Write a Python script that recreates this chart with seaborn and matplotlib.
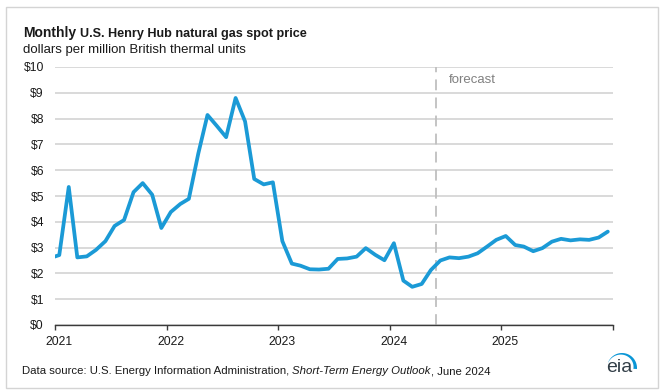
import numpy as np
import pandas as pd
import matplotlib
matplotlib.use('Agg')
import matplotlib.pyplot as plt
import matplotlib.transforms as mtransforms
from matplotlib.patches import Rectangle, Polygon
import seaborn as sns

# Henry Hub monthly spot price, Dec 2020 - Dec 2025 ($/MMBtu), forecast from Jun 2024
months = pd.date_range('2020-12-01', '2025-12-01', freq='MS')
prices = [2.59,
          2.71, 5.35, 2.62, 2.66, 2.91, 3.25, 3.84, 4.07, 5.15, 5.50, 5.05, 3.76,   # 2021
          4.38, 4.69, 4.89, 6.65, 8.14, 7.71, 7.28, 8.80, 7.89, 5.66, 5.45, 5.53,   # 2022
          3.25, 2.38, 2.30, 2.16, 2.15, 2.18, 2.56, 2.58, 2.65, 2.98, 2.72, 2.51,   # 2023
          3.17, 1.72, 1.48, 1.59, 2.13, 2.50, 2.62, 2.59, 2.65, 2.78, 3.04, 3.30,   # 2024
          3.45, 3.10, 3.04, 2.86, 2.98, 3.23, 3.34, 3.28, 3.32, 3.30, 3.39, 3.62]   # 2025
year_labels = ['2021', '2022', '2023', '2024', '2025', '']
year_starts = pd.to_datetime(['2021-01-01', '2022-01-01', '2023-01-01',
                              '2024-01-01', '2025-01-01', '2026-01-01'])
forecast_start = pd.Timestamp('2024-06-01')
y_ticks = list(range(0, 11))

df = pd.DataFrame({'date': months + pd.Timedelta(days=14), 'price': prices})

sns.set_theme(style='white')
plt.rcParams['font.family'] = ['Liberation Sans', 'DejaVu Sans']

W, H = 670, 392
fig = plt.figure(figsize=(W / 100, H / 100), dpi=100)
ax = fig.add_axes([55 / W, 1 - 325 / H, (613 - 55) / W, (325 - 67) / H])

blue = '#1B9AD6'
sns.lineplot(data=df, x='date', y='price', color=blue, lw=2.7, ax=ax)

ax.set_xlim(year_starts[0], year_starts[-1])
ax.set_ylim(0, 10)
ax.set_xticks(year_starts)
ax.set_xticklabels(year_labels)
ax.set_yticks(y_ticks)
ax.set_yticklabels([f'${v}' for v in y_ticks])
ax.set_xlabel('')
ax.set_ylabel('')

ax.yaxis.grid(True, color='#D0D0D0', lw=1.1)
ax.xaxis.grid(False)
ax.set_axisbelow(True)
for side in ['left', 'right', 'top']:
    ax.spines[side].set_visible(False)
ax.spines['bottom'].set_color('#3A3A3A')
ax.spines['bottom'].set_linewidth(1)

ax.tick_params(axis='x', bottom=True, direction='out', length=3.6, width=1,
               color='#3A3A3A', pad=4.5, labelsize=8.7, labelcolor='#1A1A1A')
ax.tick_params(axis='y', left=False, length=0, pad=8, labelsize=8.7,
               labelcolor='#1A1A1A')
shift = mtransforms.ScaledTranslation(0.04, 0, fig.dpi_scale_trans)
for lbl in ax.get_xticklabels():
    lbl.set_transform(lbl.get_transform() + shift)

# forecast divider
ax.axvline(forecast_start, color='#BFBFBF', lw=1.3, ls=(0, (6, 4)), zorder=1)
ax.annotate('forecast', xy=(forecast_start, 9.49), xytext=(9.5, 0),
            textcoords='offset points', va='center', ha='left',
            color='#808080', fontsize=9.5)

fig.canvas.draw()
rend = fig.canvas.get_renderer()


def text_runs(x_px, base_px, parts):
    x = x_px
    for s, gap, kw in parts:
        t = fig.text(x / W, 1 - base_px / H, s, va='baseline', ha='left', **kw)
        bb = t.get_window_extent(renderer=rend)
        x = bb.x1 + gap


text_runs(23, 37, [('Monthly', 3.5, dict(fontsize=10, fontweight='bold', color='#1A1A1A')),
                   ('U.S. Henry Hub natural gas spot price', 0,
                    dict(fontsize=9.1, fontweight='bold', color='#1A1A1A'))])
fig.text(23 / W, 1 - 52.5 / H, 'dollars per million British thermal units',
         fontsize=9.5, color='#1A1A1A', va='baseline')

text_runs(22, 374, [('Data source: U.S. Energy Information Administration,', 3,
                     dict(fontsize=8.2, color='#1A1A1A')),
                    ('Short-Term Energy Outlook', 0.5,
                     dict(fontsize=8.2, style='italic', color='#1A1A1A')),
                    (', June 2024', 0, dict(fontsize=8.2, color='#1A1A1A'))])

# eia logo
theta = np.linspace(np.deg2rad(158), np.deg2rad(-4), 40)
r_out = 15.0
thick = np.linspace(0.2, 3.6, theta.size)
cx, cy = 622, 368
outer = np.c_[cx + r_out * np.cos(theta), cy - r_out * np.sin(theta)]
inner = np.c_[cx + (r_out - thick) * np.cos(theta), cy - (r_out - thick) * np.sin(theta)][::-1]
pts = np.vstack([outer, inner])
pts = np.c_[pts[:, 0] / W, 1 - pts[:, 1] / H]
fig.add_artist(Polygon(pts, closed=True, transform=fig.transFigure,
                       fc='#0A96D6', ec='none'))
fig.text(619 / W, 1 - 372.5 / H, 'eia', fontsize=14, color='#333F48',
         ha='center', va='baseline')

# light frame around the whole graphic
fig.add_artist(Rectangle((6 / W, 1 - 387.5 / H), (658 - 6) / W, (387.5 - 7) / H,
                         transform=fig.transFigure, fill=False,
                         ec='#D4D4D4', lw=1))

fig.savefig('out.png', dpi=100)
